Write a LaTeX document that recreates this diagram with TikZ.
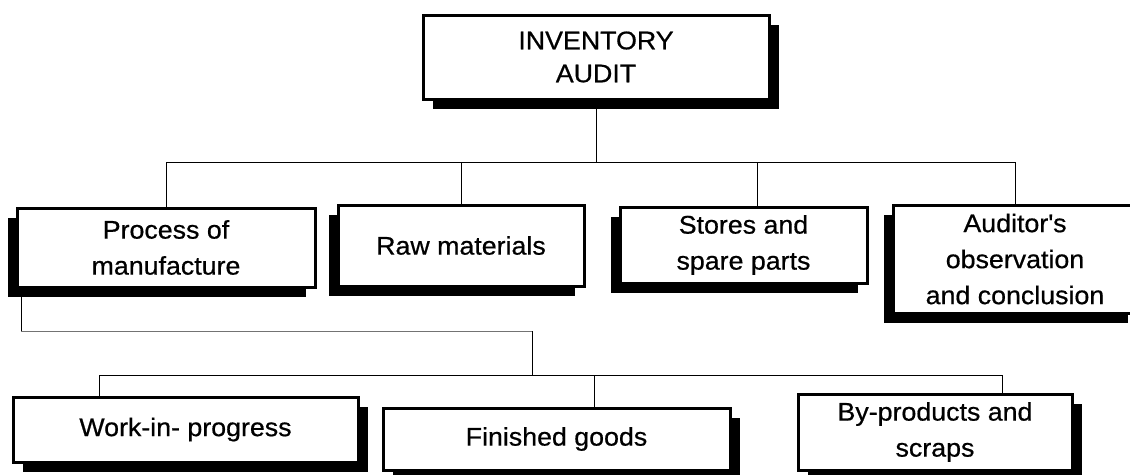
\documentclass[tikz,border=0pt]{standalone}
\usepackage{fontspec}
\setmainfont{Liberation Sans}[FakeStretch=1.05,FakeBold=0.6]
\usetikzlibrary{shadows}
\begin{document}
\begin{tikzpicture}[x=1pt,y=-1pt,
  box/.style={draw=black, line width=3pt, fill=white, inner sep=0pt, align=center,
    text=black, font=\fontsize{25.5}{36}\selectfont},
  shr/.style={drop shadow={shadow xshift=10pt, shadow yshift=-10pt, fill=black, opacity=1}},
  shl/.style={drop shadow={shadow xshift=-9pt, shadow yshift=-10pt, fill=black, opacity=1}},
  conn/.style={draw=black, line width=0.9pt},
  faint/.style={draw=black!55, line width=0.9pt}]
\useasboundingbox (0,0) rectangle (1130,474);
\fill[white] (0,0) rectangle (1130,474);

% nodes
\node[box, shr, minimum width=346pt, minimum height=84pt, font=\fontsize{25.5}{33}\selectfont]
  (top) at (596,57) {INVENTORY\\AUDIT};
\node[box, shl, minimum width=298pt, minimum height=79pt] (proc) at (166,247.5) {Process of\\manufacture};
\node[box, shl, minimum width=246pt, minimum height=81pt] (raw) at (461,245.5) {Raw materials};
\node[box, shl, minimum width=247pt, minimum height=76pt] (stores) at (743.5,245) {Stores and\\spare parts};
\node[box, shl, minimum width=244pt, minimum height=108pt] (aud) at (1015,259) {Auditor\textquotesingle s\\observation\\and conclusion};
\node[box, shr, minimum width=345pt, minimum height=65pt] (wip) at (185.5,429.5) {Work-in- progress};
\node[box, shr, minimum width=347pt, minimum height=62pt] (fin) at (556.5,439) {Finished goods};
\node[box, shr, minimum width=274pt, minimum height=76pt] (byp) at (935,432) {By-products and\\scraps};

% upper bus
\coordinate (t0) at (596,162);
\coordinate (tl) at (166,162);
\coordinate (tr) at (1015,162);
\coordinate (ts) at (757,162);
\draw[conn] (top.south) -- (t0);
\draw[conn] (proc.north) -- (tl) -- (tr) -- (aud.north);
\draw[conn] (raw.north) -- (raw.north |- t0);
\draw[conn] (ts) -- (ts |- stores.north);

% lower bus
\coordinate (p1) at (21,331);
\coordinate (p2) at (532,331);
\coordinate (j2) at (532,375);
\coordinate (b1) at (99,375);
\coordinate (b2) at (594,375);
\coordinate (b3) at (1002,375);
\draw[conn] (p1 |- proc.south) -- (p1);
\draw[faint] (p1) -- (p2);
\draw[conn] (p2) -- (j2);
\draw[conn] (b1) -- (b3);
\draw[conn] (b1) -- (b1 |- wip.north);
\draw[conn] (b2) -- (b2 |- fin.north);
\draw[conn] (b3) -- (b3 |- byp.north);
\end{tikzpicture}
\end{document}
